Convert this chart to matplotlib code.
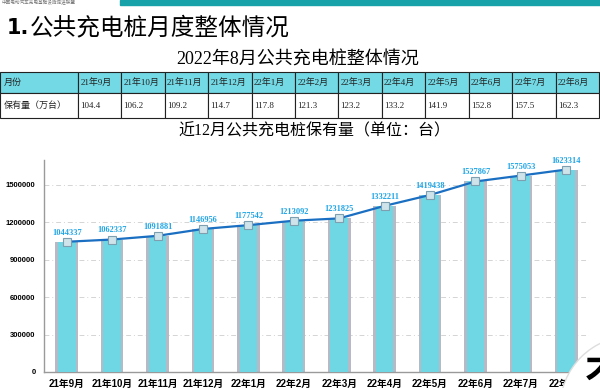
import matplotlib.pyplot as plt
from matplotlib.patches import Rectangle, Circle

plt.rcParams['font.family'] = ['DejaVu Sans', 'Noto Sans CJK SC']

# data
months = ['21年9月', '21年10月', '21年11月', '21年12月', '22年1月', '22年2月',
          '22年3月', '22年4月', '22年5月', '22年6月', '22年7月', '22年8月']
stock = [1044337, 1062337, 1091881, 1146956, 1177542, 1213092,
         1231825, 1332211, 1419438, 1527867, 1575053, 1623314]
stock_wan = [104.4, 106.2, 109.2, 114.7, 117.8, 121.3,
             123.2, 133.2, 141.9, 152.8, 157.5, 162.3]
yticks = [0, 300000, 600000, 900000, 1200000, 1500000]

W, H = 600, 388
fig = plt.figure(figsize=(6, 3.88), dpi=100)
fig.patch.set_facecolor('white')

serif_cjk = ['Liberation Serif', 'Noto Sans CJK SC']

# headings
fig.text(7 / W, 1 - 28 / H, '1.', fontsize=15, fontweight='bold', va='center')
fig.text(30 / W, 1 - 28 / H, '公共充电桩月度整体情况', fontsize=17,
         family=['Noto Sans CJK SC'], va='center')
fig.text(298 / W, 1 - 60 / H, '2022年8月公共充电桩整体情况', fontsize=13,
         family=serif_cjk, ha='center', va='center')
fig.text(314 / W, 1 - 131 / H, '近12月公共充电桩保有量（单位：台）', fontsize=11.5,
         family=serif_cjk, ha='center', va='center')

# table
tax = fig.add_axes([0, 1 - 118 / H, 599 / W, 46 / H])
tax.axis('off')
rows = [['月份'] + months,
        ['保有量（万台）'] + [f'{v:.1f}' for v in stock_wan]]
first_w = 78
col_w = (599 - first_w) / len(months)
tbl = tax.table(cellText=rows, cellLoc='left', bbox=[0, 0, 1, 1],
                colWidths=[first_w] + [col_w] * len(months))
tbl.auto_set_font_size(False)
for (r, c), cell in tbl.get_celld().items():
    cell.set_height(21 if r == 0 else 25)
    cell.set_edgecolor('#222222')
    cell.set_linewidth(0.8)
    cell.PAD = 0.05
    cell.set_facecolor('#72d9e5' if r == 0 else 'white')
    cell.get_text().set_fontsize(6.5)
    cell.get_text().set_family(serif_cjk)
    cell.get_text().set_color('#222222')

# chart
ax = fig.add_axes([44 / W, 16 / H, 545 / W, 212 / H])
x = list(range(len(months)))
ax.bar(x, stock, width=0.50, color='#b6bac6', zorder=2)
ax.bar(x, stock, width=0.39, color='#6fd7e3', zorder=3)
ax.plot(x, stock, color='#1b6fc2', lw=1.6, marker='s', ms=6,
        mfc='#cfe3ea', mec='#7d9fb0', mew=0.8, zorder=4)
for i, v in enumerate(stock):
    ax.annotate(str(v), (i, v), xytext=(0, 6.5), textcoords='offset points',
                ha='center', va='center', fontsize=6, color='#20a5e6',
                fontweight='bold', family=['Liberation Serif'], zorder=5)

ax.set_xlim(-0.5, len(months) - 0.5)
ax.set_ylim(0, 1700000)
ax.set_yticks(yticks)
ax.set_yticklabels([str(t) for t in yticks], fontsize=5.5, fontweight='bold',
                   family=['Liberation Sans'])
ax.set_xticks(x)
ax.set_xticklabels(months, fontsize=7, fontweight='bold',
                   family=['Liberation Sans', 'Noto Sans CJK SC'])
ax.tick_params(length=0)
ax.tick_params(axis='y', pad=6)
ax.tick_params(axis='x', pad=5)
ax.grid(axis='y', color='#d4d4d4', linestyle=(0, (5, 3, 1, 3)), lw=0.7, zorder=0)
for s in ['top', 'right']:
    ax.spines[s].set_visible(False)
for s in ['left', 'bottom']:
    ax.spines[s].set_color('#9a9a9a')
    ax.spines[s].set_linewidth(1)

# overlay decorations
ov = fig.add_axes([0, 0, 1, 1])
ov.set_xlim(0, W)
ov.set_ylim(H, 0)
ov.axis('off')
ov.patch.set_alpha(0)
ov.add_patch(Rectangle((120, 0), 480, 4.5, color='#17a1a8'))
ov.text(2, 2.5, '中国电动汽车充电基础设施促进联盟', fontsize=3.3, color='#777777',
        va='center', family=['Noto Sans CJK SC'])
ov.add_patch(Circle((632, 408), 72, fc='white', ec='#dddddd', lw=1, zorder=6))
ov.text(585, 357, '不', fontsize=26, fontweight='bold', va='top', ha='left',
        family=['Noto Sans CJK SC'], zorder=7, clip_on=True)

fig.savefig('out.png', dpi=100)
